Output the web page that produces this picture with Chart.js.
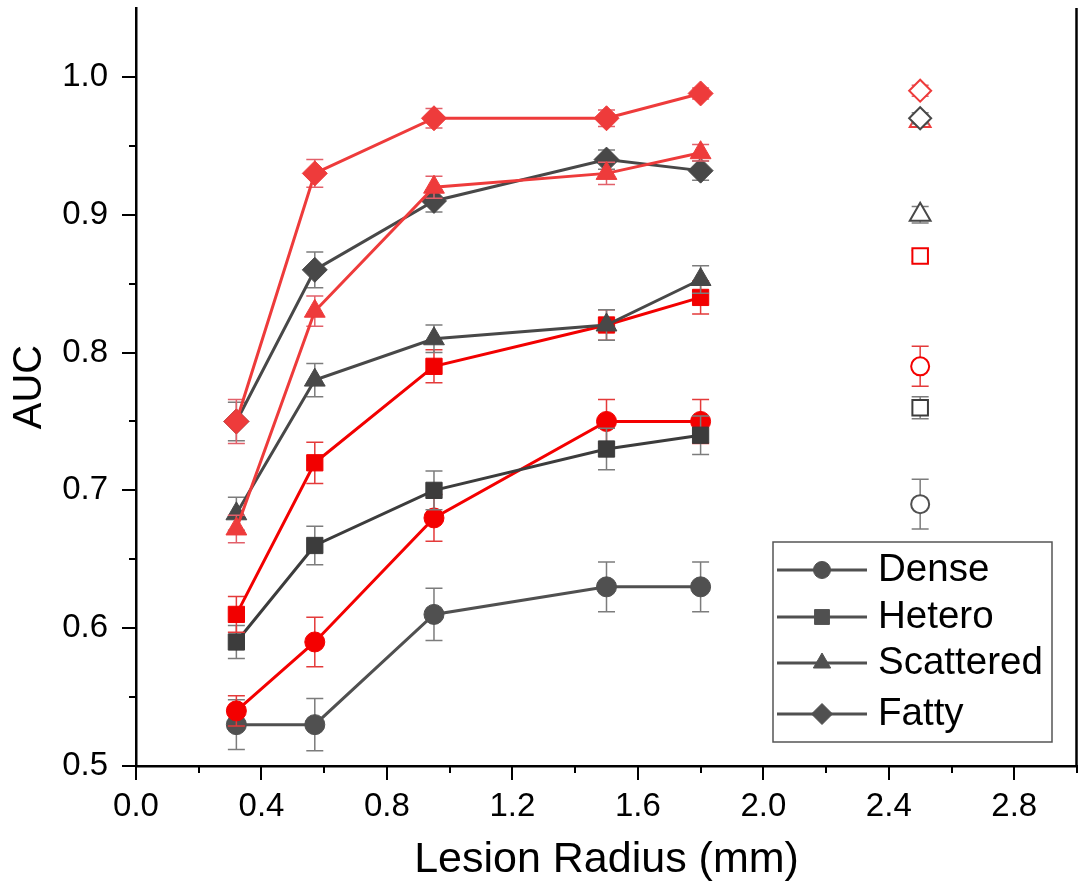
<!DOCTYPE html>
<html>
<head>
<meta charset="utf-8">
<script src="https://cdn.jsdelivr.net/npm/chart.js@4.4.1/dist/chart.umd.min.js"></script>
<style>
  html, body { margin: 0; padding: 0; background: #ffffff; }
  #wrap { width: 1078px; height: 882px; }
</style>
</head>
<body>
<div id="wrap"><canvas id="auc" width="1078" height="882"></canvas></div>
<script>
// Lesion radii (mm) and the single reference radius
const radii = [0.32, 0.57, 0.95, 1.5, 1.8];
const refRadius = 2.5;
const densityNames = ['Dense', 'Hetero', 'Scattered', 'Fatty'];

// Dark series: AUC and +/- error
const darkDense      = [0.53, 0.53, 0.61, 0.63, 0.63];
const darkDenseErr   = [0.018, 0.019, 0.019, 0.018, 0.018];
const darkHetero     = [0.59, 0.66, 0.70, 0.73, 0.74];
const darkHeteroErr  = [0.012, 0.014, 0.014, 0.015, 0.014];
const darkScatt      = [0.683, 0.78, 0.81, 0.82, 0.853];
const darkScattErr   = [0.012, 0.012, 0.010, 0.011, 0.010];
const darkFatty      = [0.75, 0.86, 0.91, 0.94, 0.932];
const darkFattyErr   = [0.014, 0.013, 0.008, 0.007, 0.007];

// Red series: AUC and +/- error
const redDense       = [0.54, 0.59, 0.68, 0.75, 0.75];
const redDenseErr    = [0.011, 0.018, 0.017, 0.016, 0.016];
const redHetero      = [0.61, 0.72, 0.79, 0.82, 0.84];
const redHeteroErr   = [0.013, 0.015, 0.012, 0.011, 0.012];
const redScatt       = [0.672, 0.83, 0.92, 0.93, 0.945];
const redScattErr    = [0.010, 0.011, 0.008, 0.008, 0.006];
const redFatty       = [0.75, 0.93, 0.97, 0.97, 0.988];
const redFattyErr    = [0.016, 0.010, 0.007, 0.006, 0.004];

// Reference values at r = 2.5 mm (dense, hetero, scattered, fatty)
const darkRef    = [0.69, 0.76, 0.90, 0.97];
const darkRefErr = [0.018, 0.008, 0.006, 0.004];
const redRef     = [0.79, 0.87, 0.968, 0.99];
const redRefErr  = [0.0145, 0.004, 0.004, 0.004];

// Axis ticks
const xMajorTicks = [0.0, 0.4, 0.8, 1.2, 1.6, 2.0, 2.4, 2.8];
const xMinorTicks = [0.2, 0.6, 1.0, 1.4, 1.8, 2.2, 2.6, 3.0];
const yMajorTicks = [0.5, 0.6, 0.7, 0.8, 0.9, 1.0];
const yMinorTicks = [0.55, 0.65, 0.75, 0.85, 0.95];

const FONT = "'Liberation Sans', Arial, Helvetica, sans-serif";
Chart.defaults.font.family = FONT;
Chart.defaults.color = '#000000';

const shapes = ['circle', 'rect', 'triangle', 'rectRot'];
const shapeRadius = { circle: 10, rect: 11.5, triangle: 12, rectRot: 12.5 };
const hollowRadius = { circle: 9, rect: 11, triangle: 12, rectRot: 11 };
const legendRadius = { circle: 8.5, rect: 10.5, triangle: 10, rectRot: 10.5 };

const darkColors = ['#505050', '#3c3c3c', '#484848', '#484848'];
const redColors  = ['#f40000', '#f20000', '#ee3b3b', '#ee3b3b'];
const darkErrColor = '#7c7c7c';
const redErrColors = ['#e43a3a', '#e43a3a', '#e2606a', '#e2606a'];

function pts(values) {
  return values.map((v, i) => ({ x: radii[i], y: v }));
}

function lineSet(label, values, errs, k, color, errColor) {
  const s = shapes[k];
  return {
    label: label,
    data: pts(values),
    errors: errs,
    errColor: errColor,
    showLine: true,
    borderColor: color,
    borderWidth: 3,
    pointStyle: s,
    pointRadius: shapeRadius[s],
    pointBackgroundColor: color,
    pointBorderColor: color,
    pointBorderWidth: 1,
    fill: false,
    tension: 0
  };
}

function refSet(label, value, err, k, color, errColor) {
  const s = shapes[k];
  return {
    label: label,
    data: [{ x: refRadius, y: value }],
    errors: [err],
    errColor: errColor,
    showLine: false,
    pointStyle: s,
    pointRadius: hollowRadius[s],
    pointBackgroundColor: '#ffffff',
    pointBorderColor: color,
    pointBorderWidth: 2
  };
}

// Draw order: last in the list ends up underneath
const drawStack = [
  refSet('Fatty ref (red)', redRef[3], redRefErr[3], 3, redColors[3], redErrColors[3]),
  refSet('Fatty ref', darkRef[3], darkRefErr[3], 3, darkColors[3], darkErrColor),
  refSet('Scattered ref (red)', redRef[2], redRefErr[2], 2, redColors[2], redErrColors[2]),
  refSet('Scattered ref', darkRef[2], darkRefErr[2], 2, darkColors[2], darkErrColor),
  refSet('Hetero ref (red)', redRef[1], redRefErr[1], 1, redColors[1], redErrColors[1]),
  refSet('Hetero ref', darkRef[1], darkRefErr[1], 1, darkColors[1], darkErrColor),
  refSet('Dense ref (red)', redRef[0], redRefErr[0], 0, redColors[0], redErrColors[0]),
  refSet('Dense ref', darkRef[0], darkRefErr[0], 0, darkColors[0], darkErrColor),
  lineSet('Fatty (red)', redFatty, redFattyErr, 3, redColors[3], redErrColors[3]),
  lineSet('Scattered (red)', redScatt, redScattErr, 2, redColors[2], redErrColors[2]),
  lineSet('Fatty', darkFatty, darkFattyErr, 3, darkColors[3], darkErrColor),
  lineSet('Scattered', darkScatt, darkScattErr, 2, darkColors[2], darkErrColor),
  lineSet('Hetero (red)', redHetero, redHeteroErr, 1, redColors[1], redErrColors[1]),
  lineSet('Hetero', darkHetero, darkHeteroErr, 1, darkColors[1], darkErrColor),
  lineSet('Dense (red)', redDense, redDenseErr, 0, redColors[0], redErrColors[0]),
  lineSet('Dense', darkDense, darkDenseErr, 0, darkColors[0], darkErrColor)
];

// Vertical error bars with caps, drawn right before each dataset's markers
const errorBars = {
  id: 'errorBars',
  beforeDatasetDraw(chart, args) {
    const ds = chart.data.datasets[args.index];
    if (!ds.errors) return;
    const yScale = chart.scales.y;
    const ctx = chart.ctx;
    const cap = 8.5;
    ctx.save();
    ctx.strokeStyle = ds.errColor;
    ctx.lineWidth = 1.5;
    args.meta.data.forEach((el, i) => {
      const v = ds.data[i].y;
      const e = ds.errors[i];
      const yTop = yScale.getPixelForValue(v + e);
      const yBot = yScale.getPixelForValue(v - e);
      ctx.beginPath();
      ctx.moveTo(el.x, yTop); ctx.lineTo(el.x, yBot);
      ctx.moveTo(el.x - cap, yTop); ctx.lineTo(el.x + cap, yTop);
      ctx.moveTo(el.x - cap, yBot); ctx.lineTo(el.x + cap, yBot);
      ctx.stroke();
    });
    ctx.restore();
  }
};

// Outward tick marks and the right-hand frame line
const frameTicks = {
  id: 'frameTicks',
  afterDraw(chart) {
    const { ctx, chartArea } = chart;
    const xs = chart.scales.x, ys = chart.scales.y;
    ctx.save();
    ctx.strokeStyle = '#000000';
    ctx.lineWidth = 2;
    ctx.beginPath();
    xMajorTicks.forEach(v => { const px = Math.round(xs.getPixelForValue(v)); ctx.moveTo(px, chartArea.bottom); ctx.lineTo(px, chartArea.bottom + 14); });
    xMinorTicks.forEach(v => { const px = Math.round(xs.getPixelForValue(v)); ctx.moveTo(px, chartArea.bottom); ctx.lineTo(px, chartArea.bottom + 7); });
    yMajorTicks.forEach(v => { const py = Math.round(ys.getPixelForValue(v)); ctx.moveTo(chartArea.left, py); ctx.lineTo(chartArea.left - 14, py); });
    yMinorTicks.forEach(v => { const py = Math.round(ys.getPixelForValue(v)); ctx.moveTo(chartArea.left, py); ctx.lineTo(chartArea.left - 7, py); });
    ctx.stroke();
    ctx.lineWidth = 2.5;
    ctx.beginPath();
    ctx.moveTo(chartArea.right - 0.5, chartArea.top);
    ctx.lineTo(chartArea.right - 0.5, chartArea.bottom);
    ctx.stroke();
    ctx.restore();
  }
};

// Boxed key for the four breast-density categories
const densityKey = {
  id: 'densityKey',
  afterDraw(chart) {
    const ctx = chart.ctx;
    const box = { x: 773, y: 542, w: 279, h: 200 };
    const rows = [570, 617, 663, 714];
    ctx.save();
    ctx.fillStyle = '#ffffff';
    ctx.fillRect(box.x, box.y, box.w, box.h);
    ctx.strokeStyle = '#555555';
    ctx.lineWidth = 1.5;
    ctx.strokeRect(box.x, box.y, box.w, box.h);
    densityNames.forEach((name, k) => {
      const y = rows[k];
      const color = '#505050';
      ctx.strokeStyle = color;
      ctx.lineWidth = 3;
      ctx.beginPath();
      ctx.moveTo(777, y); ctx.lineTo(867, y);
      ctx.stroke();
      ctx.fillStyle = color;
      ctx.strokeStyle = color;
      ctx.lineWidth = 1;
      Chart.helpers.drawPoint(ctx, { pointStyle: shapes[k], radius: legendRadius[shapes[k]], rotation: 0, borderWidth: 1 }, 822, y);
      ctx.fillStyle = '#000000';
      ctx.font = '38.5px ' + FONT;
      ctx.textAlign = 'left';
      ctx.textBaseline = 'middle';
      ctx.fillText(name, 878, y);
    });
    ctx.restore();
  }
};

new Chart(document.getElementById('auc'), {
  type: 'scatter',
  data: { datasets: drawStack },
  options: {
    responsive: false,
    animation: false,
    events: [],
    devicePixelRatio: 1,
    layout: { autoPadding: false, padding: { top: 8, right: 1, bottom: 0, left: 0 } },
    plugins: { legend: { display: false }, tooltip: { enabled: false } },
    scales: {
      x: {
        type: 'linear',
        min: 0,
        max: 3.0,
        afterBuildTicks: s => { s.ticks = xMajorTicks.map(v => ({ value: v })); },
        afterFit: s => { s.height = 116; s.paddingLeft = 0; s.paddingRight = 0; },
        grid: { display: false },
        border: { display: true, color: '#000000', width: 2.5 },
        ticks: {
          font: { size: 33 }, color: '#000000', padding: 13,
          maxRotation: 0, autoSkip: false,
          callback: v => Number(v).toFixed(1)
        },
        title: {
          display: true, text: 'Lesion Radius (mm)', color: '#000000',
          font: { size: 43, lineHeight: 1.0 }, padding: { top: 0, bottom: 0 }
        }
      },
      y: {
        type: 'linear',
        min: 0.5,
        max: 1.05,
        afterBuildTicks: s => { s.ticks = yMajorTicks.map(v => ({ value: v })); },
        afterFit: s => { s.width = 136; s.paddingTop = 0; s.paddingBottom = 0; },
        grid: { display: false },
        border: { display: true, color: '#000000', width: 2.5 },
        ticks: {
          font: { size: 33 }, color: '#000000', padding: 20,
          autoSkip: false,
          callback: v => Number(v).toFixed(1)
        },
        title: {
          display: true, text: 'AUC', color: '#000000',
          font: { size: 40, lineHeight: 1.0 }, padding: { top: 10, bottom: 0 }
        }
      }
    }
  },
  plugins: [errorBars, frameTicks, densityKey]
});
</script>
</body>
</html>
